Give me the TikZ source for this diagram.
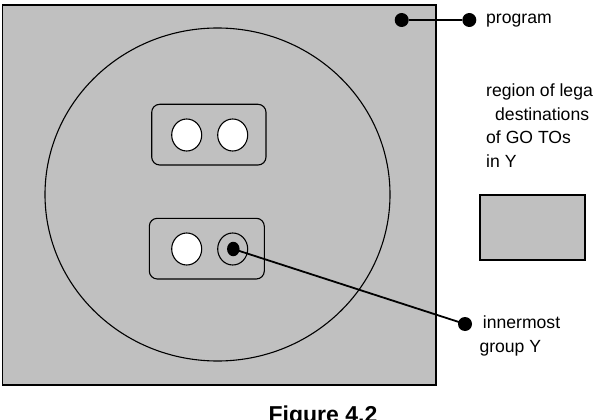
\documentclass[tikz,border=0pt]{standalone}
\usepackage{fontspec}
\setmainfont{Liberation Sans}
\usetikzlibrary{shapes.geometric}
\definecolor{boxgray}{HTML}{C0C0C0}
\tikzset{
  lbl/.style={anchor=base west, inner sep=0pt, font=\fontsize{17.6}{21}\selectfont},
  dotnode/.style={circle, fill=black, inner sep=0pt, minimum size=14pt},
  hole/.style={ellipse, draw=black, line width=1.1pt, fill=white, inner sep=0pt, minimum width=30pt, minimum height=32pt},
  groupbox/.style={draw=black, line width=1.1pt, rounded corners=8pt},
  conn/.style={line width=1.8pt}
}
\begin{document}
\begin{tikzpicture}[x=1pt,y=-1pt]
\useasboundingbox (0,0) rectangle (595,420);
\clip (0,0) rectangle (595,420);
% program rectangle
\draw[fill=boxgray, line width=1.6pt] (2.5,5) rectangle (436,385);
% big region
\node[ellipse, draw=black, line width=1.1pt, inner sep=0pt, minimum width=345pt, minimum height=333pt] (region) at (217.5,194.5) {};
% upper group
\draw[groupbox] (151.7,104.3) rectangle (266,165);
\node[hole] (h1) at (186.7,135) {};
\node[hole] (h2) at (232.7,135) {};
% lower group
\draw[groupbox] (149.3,218.3) rectangle (264.3,279);
\node[hole] (h3) at (186.7,249) {};
\node[hole, fill=boxgray] (h4) at (232.7,249) {};
\node[ellipse, fill=black, inner sep=0pt, minimum width=12.5pt, minimum height=14.5pt] (y) at (233.3,249) {};
% program label
\node[dotnode] (p1) at (401.7,20) {};
\node[dotnode] (p2) at (469.3,20) {};
\draw[conn] (p1) -- (p2);
\node[lbl] (tprog) at (486,24) {program};
% legend
\node[lbl] (t1) at (486,96.7) {region of lega};
\node[lbl] (t2) at (495,120.2) {destinations};
\node[lbl] (t3) at (486,143.8) {of GO TOs};
\node[lbl] (t4) at (486,167.3) {in Y};
\draw[fill=boxgray, line width=1.6pt] (480,195) rectangle (584.7,260);
% innermost
\node[dotnode] (q) at (465,324) {};
\draw[conn] (y.center) -- (q.center);
\node[lbl] (t5) at (482.7,328.3) {innermost};
\node[lbl] (t6) at (479.3,352.7) {group Y};
% caption
\node[anchor=north, inner sep=0pt, font=\fontsize{23}{26}\bfseries] (cap) at (323,406) {Figure 4.2};
\end{tikzpicture}
\end{document}
